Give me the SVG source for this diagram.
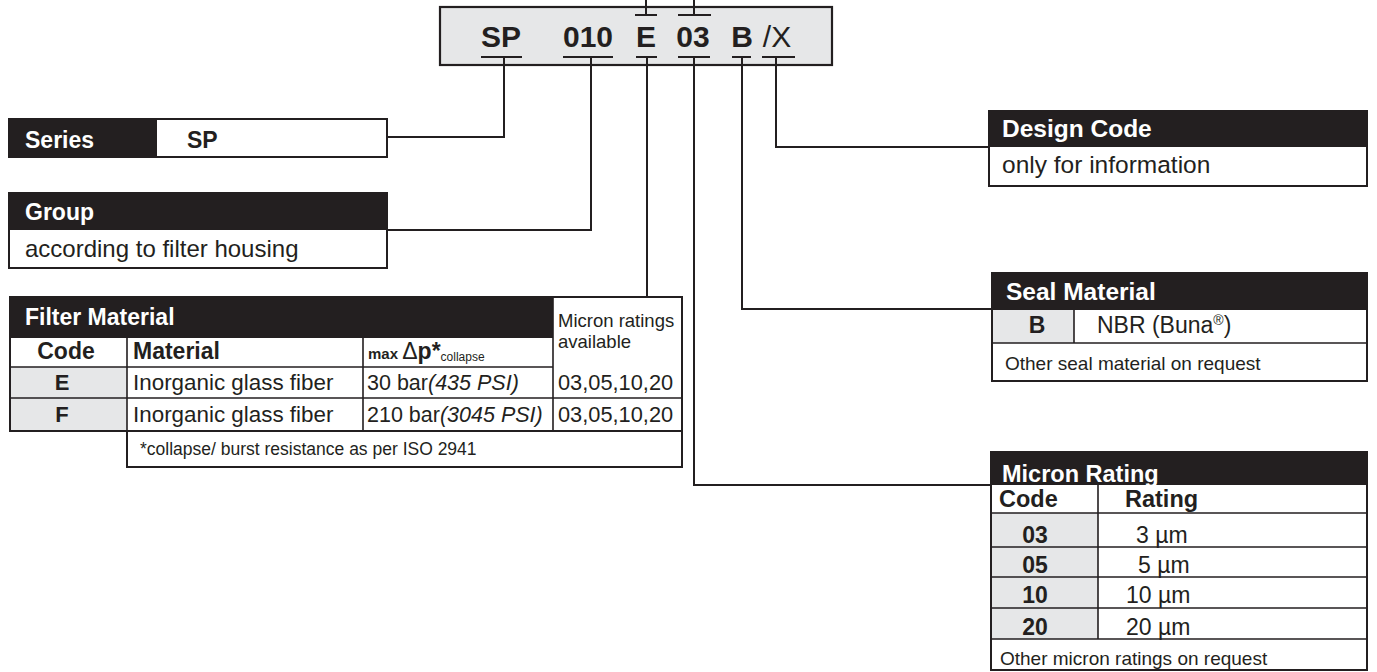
<svg xmlns="http://www.w3.org/2000/svg" width="1377" height="672" viewBox="0 0 1377 672">
<style>
text{font-family:"Liberation Sans",Arial,sans-serif;fill:#231f20}
.b{font-weight:bold}
.w{fill:#fff;font-weight:bold}
.hdr{fill:#231f20}
.box{fill:#fff;stroke:#231f20;stroke-width:2}
.gray{fill:#e6e7e8}
.ln{stroke:#231f20;stroke-width:1.6;fill:none}
.con{stroke:#231f20;stroke-width:2;fill:none}
</style>
<rect width="1377" height="672" fill="#fff"/>

<g id="code">
  <rect x="440" y="7" width="392" height="58" fill="#e6e7e8" stroke="#231f20" stroke-width="2.2"/>
  <text x="501" y="47" font-size="30" class="b" text-anchor="middle">SP</text>
  <text x="588" y="47" font-size="30" class="b" text-anchor="middle">010</text>
  <text x="646" y="47" font-size="30" class="b" text-anchor="middle">E</text>
  <text x="693" y="47" font-size="30" class="b" text-anchor="middle">03</text>
  <text x="742" y="47" font-size="30" class="b" text-anchor="middle">B</text>
  <text x="777" y="47" font-size="30" text-anchor="middle">/X</text>
</g>

<g id="connectors">
  <path class="con" d="M646 0V15M635 15H657"/>
  <path class="con" d="M694 0V15M678 15H711"/>
  <path class="con" d="M481 57H522M504 57V137H387"/>
  <path class="con" d="M563 57H613M591 57V230H387"/>
  <path class="con" d="M636 57H657M647 57V297"/>
  <path class="con" d="M678 57H710M694 57V485H991"/>
  <path class="con" d="M732 57H751M742 57V309H992"/>
  <path class="con" d="M762 57H795M776 57V147H989"/>
</g>

<g id="series">
  <rect class="box" x="9" y="119" width="378" height="38"/>
  <rect class="hdr" x="9" y="119" width="148" height="38"/>
  <text x="25" y="148" font-size="23" class="w">Series</text>
  <text x="187" y="148" font-size="23" class="b">SP</text>
</g>

<g id="group">
  <rect class="box" x="9" y="193" width="378" height="75"/>
  <rect class="hdr" x="9" y="193" width="378" height="37"/>
  <text x="25" y="220" font-size="23" class="w">Group</text>
  <text x="25" y="257" font-size="24">according to filter housing</text>
</g>

<g id="filter-material">
  <rect class="gray" x="10" y="367" width="117" height="64"/>
  <rect class="hdr" x="10" y="297" width="543" height="41"/>
  <path class="ln" d="M10 367H553M10 398H682M127 338V467M363 338V431M553 297V431"/>
  <rect x="10" y="297" width="672" height="134" fill="none" stroke="#231f20" stroke-width="2"/>
  <path class="con" d="M127 431V467H682V431"/>
  <text x="25" y="325" font-size="23" class="w">Filter Material</text>
  <text x="558" y="327" font-size="18.5">Micron ratings</text>
  <text x="558" y="348" font-size="18.5">available</text>
  <text x="66" y="359" font-size="23" class="b" text-anchor="middle">Code</text>
  <text x="133" y="359" font-size="23" class="b">Material</text>
  <text x="368" y="359" font-size="15" class="b">max <tspan font-size="23" font-weight="normal">Δ</tspan><tspan font-size="23">p*</tspan><tspan font-size="12" font-weight="normal" dy="2">collapse</tspan></text>
  <text x="62" y="390" font-size="22" class="b" text-anchor="middle">E</text>
  <text x="62" y="422" font-size="22" class="b" text-anchor="middle">F</text>
  <text x="133" y="390" font-size="22.4">Inorganic glass fiber</text>
  <text x="133" y="422" font-size="22.4">Inorganic glass fiber</text>
  <text x="367" y="390" font-size="21.5">30 bar<tspan font-style="italic">(435 PSI)</tspan></text>
  <text x="367" y="422" font-size="21.5">210 bar<tspan font-style="italic">(3045 PSI)</tspan></text>
  <text x="558" y="390" font-size="21.8">03,05,10,20</text>
  <text x="558" y="422" font-size="21.8">03,05,10,20</text>
  <text x="140" y="455" font-size="17.5">*collapse/ burst resistance as per ISO 2941</text>
</g>

<g id="design-code">
  <rect class="box" x="989" y="111" width="378" height="75"/>
  <rect class="hdr" x="989" y="111" width="378" height="36"/>
  <text x="1002" y="137" font-size="24.5" class="w">Design Code</text>
  <text x="1002" y="173" font-size="24.5">only for information</text>
</g>

<g id="seal-material">
  <rect class="box" x="992" y="273" width="375" height="108"/>
  <rect class="gray" x="993" y="310" width="81" height="33"/>
  <rect class="hdr" x="992" y="273" width="375" height="37"/>
  <path class="ln" d="M992 343H1367M1074 310V343"/>
  <text x="1006" y="300" font-size="24.5" class="w">Seal Material</text>
  <text x="1037" y="333" font-size="23" class="b" text-anchor="middle">B</text>
  <text x="1097" y="333" font-size="23">NBR (Buna<tspan font-size="14" dy="-8">®</tspan><tspan dy="8">)</tspan></text>
  <text x="1005" y="370" font-size="19">Other seal material on request</text>
</g>

<g id="micron-rating">
  <rect class="box" x="991" y="452" width="376" height="218"/>
  <rect class="gray" x="992" y="513" width="106" height="126"/>
  <rect class="hdr" x="991" y="452" width="376" height="33"/>
  <path class="ln" d="M991 513H1367M991 547H1367M991 577H1367M991 608H1367M991 639H1367M1098 485V639"/>
  <text x="1002" y="482" font-size="23.5" class="w">Micron Rating</text>
  <text x="999" y="507" font-size="23.5" class="b">Code</text>
  <text x="1125" y="507" font-size="23.5" class="b">Rating</text>
  <text x="1035" y="543" font-size="23" class="b" text-anchor="middle">03</text>
  <text x="1035" y="573" font-size="23" class="b" text-anchor="middle">05</text>
  <text x="1035" y="603" font-size="23" class="b" text-anchor="middle">10</text>
  <text x="1035" y="635" font-size="23" class="b" text-anchor="middle">20</text>
  <text x="1136" y="543" font-size="23">3 µm</text>
  <text x="1138" y="573" font-size="23">5 µm</text>
  <text x="1126" y="603" font-size="23">10 µm</text>
  <text x="1126" y="635" font-size="23">20 µm</text>
  <text x="1000" y="665" font-size="19">Other micron ratings on request</text>
</g>
</svg>
